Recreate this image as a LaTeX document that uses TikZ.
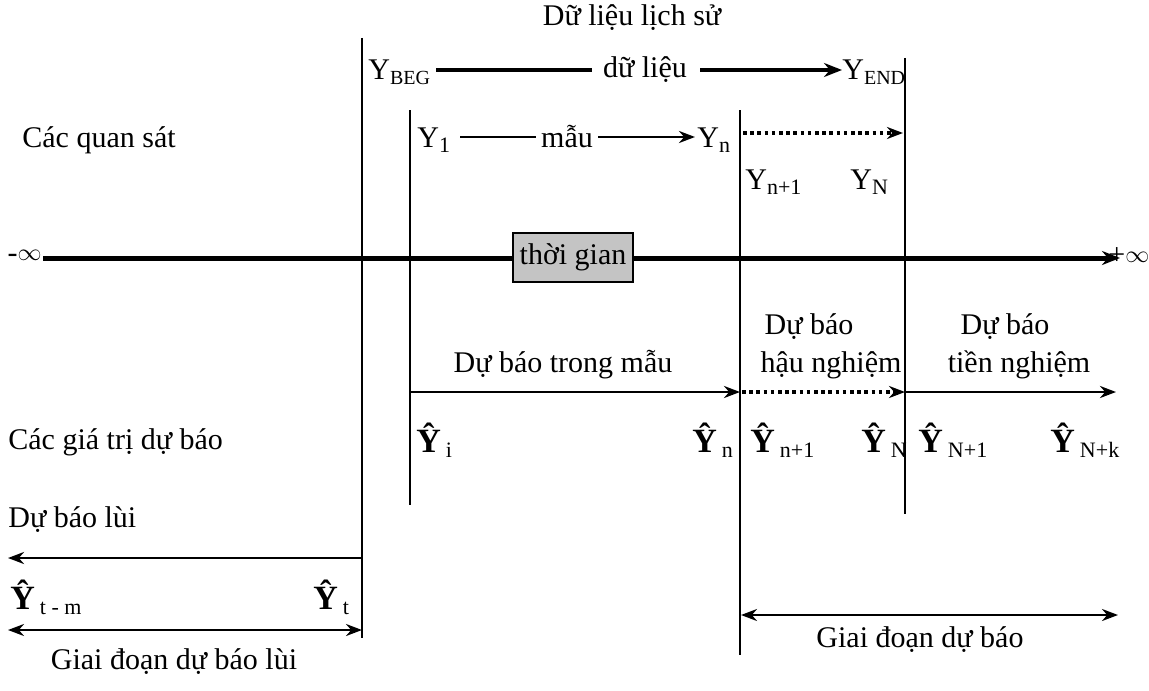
\documentclass[tikz,border=0pt]{standalone}
\usepackage{fontspec}
\setmainfont{Liberation Serif}
\usetikzlibrary{arrows.meta}
\newcommand{\lo}[1]{\raisebox{-0.35ex}{\fontsize{11}{12}\selectfont #1}}
\newcommand{\los}[1]{\raisebox{-0.35ex}{\fontsize{10}{12}\selectfont #1}}
\newcommand{\yh}{{\fontsize{17}{18}\selectfont\textbf{Ŷ}}}
\newcommand{\infsym}{\raisebox{0.15ex}{\fontsize{12}{12}\selectfont$\infty$}}
\begin{document}
\begin{tikzpicture}[x=0.5pt,y=-0.5pt,
  every node/.style={font=\fontsize{15}{17}\selectfont, inner sep=0pt},
  lbl/.style={anchor=west},
  vline/.style={line width=1pt},
  axis/.style={line width=2.5pt,-{Stealth[length=9pt,width=7pt]}},
  thickseg/.style={line width=2pt},
  midarr/.style={line width=1.4pt,-{Stealth[length=8pt,width=6pt]}},
  dotarr/.style={line width=1.8pt,dash pattern=on 1.8pt off 1.8pt,-{Stealth[length=8pt,width=6pt]}},
  dblarr/.style={line width=1.2pt,{Stealth[length=8pt,width=6pt]}-{Stealth[length=8pt,width=6pt]}},
  thinseg/.style={line width=0.8pt}]
\useasboundingbox (0,0) rectangle (1149,690);
% vertical lines
\coordinate (v1t) at (362,38); \coordinate (v1b) at (362,638);
\coordinate (v2t) at (410,110); \coordinate (v2b) at (410,505);
\coordinate (v3t) at (740,110); \coordinate (v3b) at (740,655);
\coordinate (v4t) at (905,58);  \coordinate (v4b) at (905,514);
\draw[vline] (v1t) -- (v1b);
\draw[vline] (v2t) -- (v2b);
\draw[vline] (v3t) -- (v3b);
\draw[vline] (v4t) -- (v4b);
% top
\node (hist) at (632,18) {Dữ liệu lịch sử};
\node[lbl] (ybeg) at (368,72) {Y\los{BEG}};
\node (dl) at (645,70) {dữ liệu};
\node[lbl] (yend) at (842,72) {Y\los{END}};
\coordinate (t0) at (436,70); \coordinate (t1) at (592,70);
\coordinate (t2) at (700,70); \coordinate (t3) at (842,70);
\draw[thickseg] (t0) -- (t1);
\draw[thickseg,-{Stealth[length=9pt,width=7pt]}] (t2) -- (t3);
% observations
\node[lbl] (cqs) at (22,140) {Các quan sát};
\node[lbl] (y1) at (417,140) {Y\lo{1}};
\node (mau) at (567,137) {mẫu};
\node[lbl] (yn) at (697,140) {Y\lo{n}};
\coordinate (m0) at (460,137); \coordinate (m0b) at (536,137);
\coordinate (m1) at (598,137); \coordinate (m2) at (695,137);
\draw[thinseg] (m0) -- (m0b);
\draw[midarr] (m1) -- (m2);
\coordinate (dots1) at (743,133); \coordinate (dote1) at (903,133);
\draw[dotarr] (dots1) -- (dote1);
\node[lbl] (yn1) at (745,182) {Y\lo{n+1}};
\node[lbl] (yNN) at (850,182) {Y\lo{N}};
% time axis
\node[anchor=east] (minf) at (42,256) {-\infsym};
\node[draw,fill=black!23,line width=1pt,minimum width=60pt,minimum height=24.5pt] (time) at (573,257.5) {thời gian};
\node[anchor=west] (pinf) at (1108,256) {+\infsym};
\coordinate (ax0) at (43,258); \coordinate (ax1) at (1120,258);
\draw[line width=2.5pt] (ax0) -- (time.west |- ax0);
\draw[axis] (time.east |- ax0) -- (ax1);
% forecasts
\node (dbtm) at (563,365) {Dự báo trong mẫu};
\node (db1) at (809,327) {Dự báo};
\node (hn) at (831,365) {hậu nghiệm};
\node (db2) at (1005,327) {Dự báo};
\node (tn) at (1019,365) {tiền nghiệm};
\coordinate (f0) at (410,392); \coordinate (f1) at (740,392);
\coordinate (f2) at (905,392); \coordinate (f3) at (1116,392);
\coordinate (f1b) at (742,392);
\draw[midarr] (f0) -- (f1);
\draw[dotarr] (f1b) -- (f2);
\draw[midarr] (f2) -- (f3);
\node[lbl] (cgt) at (8,442) {Các giá trị dự báo};
\node[lbl] (hi) at (416,440) {\yh\,\lo{i}};
\node[lbl] (hn0) at (692,440) {\yh\,\lo{n}};
\node[lbl] (hn1) at (750,440) {\yh\,\lo{n+1}};
\node[lbl] (hN) at (861,440) {\yh\,\lo{N}};
\node[lbl] (hN1) at (918,440) {\yh\,\lo{N+1}};
\node[lbl] (hNk) at (1050,440) {\yh\,\lo{N+k}};
% backcast
\node[lbl] (dbl) at (8,520) {Dự báo lùi};
\coordinate (b0) at (362,558); \coordinate (b1) at (8,558);
\draw[midarr] (b0) -- (b1);
\node[lbl] (htm) at (10,597) {\yh\,\lo{t - m}};
\node[lbl] (ht) at (313,597) {\yh\,\lo{t}};
\coordinate (g0) at (8,630); \coordinate (g1) at (362,630);
\draw[dblarr] (g0) -- (g1);
\node (gdl) at (174,662) {Giai đoạn dự báo lùi};
\coordinate (p0) at (741,615); \coordinate (p1) at (1118,615);
\draw[dblarr] (p0) -- (p1);
\node (gd) at (920,640) {Giai đoạn dự báo};
\end{tikzpicture}
\end{document}
